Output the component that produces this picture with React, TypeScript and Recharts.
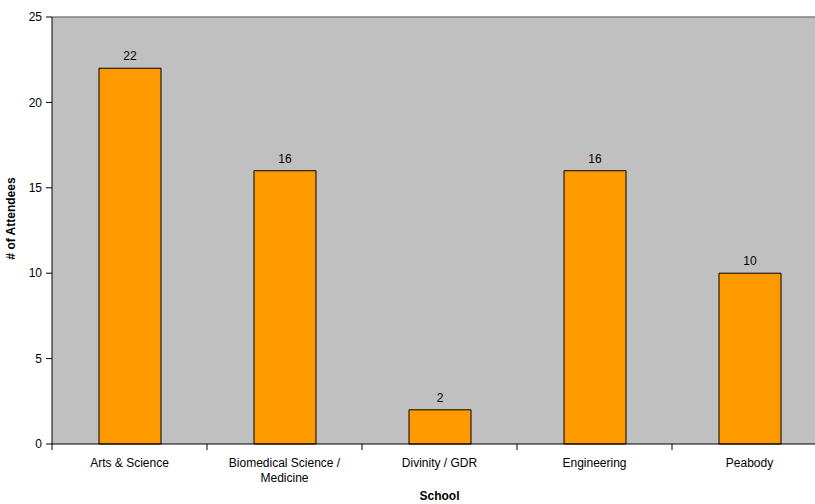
import React from "react";
import {
  BarChart,
  Bar,
  XAxis,
  YAxis,
  CartesianGrid,
  LabelList,
  ReferenceLine,
  Text,
} from "recharts";

const schools = [
  "Arts & Science",
  "Biomedical Science / Medicine",
  "Divinity / GDR",
  "Engineering",
  "Peabody",
];
const attendees = [22, 16, 2, 16, 10];
const yTicks = [0, 5, 10, 15, 20, 25];

const data = schools.map((school, i) => ({ school, attendees: attendees[i] }));

const FONT = "Liberation Sans, Arial, sans-serif";
const BAND = 155;

function SchoolTick(props: any) {
  const { x, y, payload } = props;
  return (
    <g>
      <line x1={x - BAND / 2} y1={y - 8} x2={x - BAND / 2} y2={y - 2} stroke="#000" />
      <Text
        x={x}
        y={y + 6}
        width={150}
        textAnchor="middle"
        verticalAnchor="start"
        lineHeight={15}
        fontSize={12}
        fontFamily={FONT}
        fill="#000"
      >
        {payload.value}
      </Text>
    </g>
  );
}

export default function App() {
  return (
    <div
      style={{
        position: "absolute",
        left: 0,
        top: 0,
        width: 815,
        height: 504,
        overflow: "hidden",
        background: "#fff",
      }}
    >
      <BarChart
        width={827}
        height={504}
        data={data}
        margin={{ top: 17, right: 0, bottom: 0, left: 0 }}
      >
        <CartesianGrid fill="#C0C0C0" horizontal={false} vertical={false} />
        <ReferenceLine y={25} stroke="#808080" strokeWidth={1.5} />
        <XAxis
          dataKey="school"
          height={60}
          tickLine={false}
          tick={<SchoolTick />}
          interval={0}
          axisLine={{ stroke: "#000" }}
          label={{
            value: "School",
            position: "insideBottom",
            offset: 4,
            fontSize: 12,
            fontWeight: "bold",
            fontFamily: FONT,
            fill: "#000",
          }}
        />
        <YAxis
          width={52}
          domain={[0, 25]}
          ticks={yTicks}
          tickSize={6}
          tickMargin={4}
          axisLine={{ stroke: "#000" }}
          tickLine={{ stroke: "#000" }}
          tick={{ fontSize: 12, fontFamily: FONT, fill: "#000" }}
          label={{
            value: "# of Attendees",
            angle: -90,
            position: "insideLeft",
            offset: 11,
            dy: -12,
            style: { textAnchor: "middle" },
            fontSize: 12,
            fontWeight: "bold",
            fontFamily: FONT,
            fill: "#000",
          }}
        />
        <Bar
          dataKey="attendees"
          fill="#FF9900"
          stroke="#000"
          strokeWidth={1}
          barSize={62}
          isAnimationActive={false}
        >
          <LabelList
            dataKey="attendees"
            position="top"
            offset={8}
            fontSize={12}
            fontFamily={FONT}
            fill="#000"
          />
        </Bar>
      </BarChart>
    </div>
  );
}
